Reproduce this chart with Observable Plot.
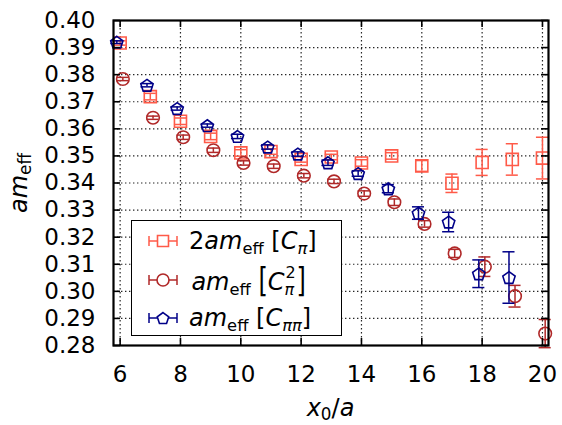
<!DOCTYPE html>
<html>
<head>
<meta charset="utf-8">
<script src="https://cdn.jsdelivr.net/npm/d3@7"></script>
<script src="https://cdn.jsdelivr.net/npm/@observablehq/plot@0.6"></script>
<style>
  body { margin: 0; background: #fff; }
  #wrap { position: relative; width: 562px; height: 425px; font-family: "DejaVu Sans", sans-serif; color: #000; overflow: hidden; }
  #wrap svg { display: block; }
  .lab { position: absolute; font-size: 24px; white-space: nowrap; line-height: 1; }
  .lab sub { font-size: 0.7em; vertical-align: -0.25em; font-style: normal; line-height: 0; }
  #legend { position: absolute; left: 131px; top: 220px; width: 209px; height: 114px; border: 1.5px solid #000; background: #fff; }
  .row { position: absolute; left: 0; height: 36px; display: flex; align-items: center; }
  .row svg { margin-left: 15px; margin-right: 10px; }
  .row .txt { font-size: 24px; white-space: nowrap; line-height: 1; }
  .txt sub { font-size: 0.68em; vertical-align: -0.32em; line-height: 0; }
  .ss { display: inline-block; position: relative; width: 12px; height: 24px; vertical-align: baseline; }
  .ss .up { position: absolute; left: 1px; top: -1px; font-size: 16px; line-height: 16px; font-style: normal; }
  .ss .dn { position: absolute; left: 0px; top: 16px; font-size: 16px; line-height: 16px; font-style: italic; }
  .bigb { display: inline-block; transform: scaleY(1.4); transform-origin: 50% 60%; }
</style>
</head>
<body>
<div id="wrap"></div>
<script>
// ---- data ----
const xBase = [6, 7, 8, 9, 10, 11, 12, 13, 14, 15, 16, 17, 18, 19, 20];
const sqVal = [0.3917, 0.3719, 0.3628, 0.3572, 0.3511, 0.3516, 0.3487, 0.3496, 0.3474, 0.3500, 0.3463, 0.3399, 0.3476, 0.3487, 0.3492];
const sqErr = [0.0008, 0.0012, 0.0012, 0.0012, 0.0012, 0.0010, 0.0010, 0.0010, 0.0012, 0.0012, 0.0020, 0.0034, 0.0048, 0.0058, 0.0077];
const ciVal = [0.3784, 0.3641, 0.3569, 0.3521, 0.3474, 0.3462, 0.3427, 0.3406, 0.3361, 0.3329, 0.3249, 0.3140, 0.3091, 0.2982, 0.2844];
const ciErr = [0.0006, 0.0006, 0.0008, 0.0008, 0.0008, 0.0008, 0.0008, 0.0008, 0.0010, 0.0012, 0.0012, 0.0015, 0.0036, 0.0040, 0.0052];
const peX   = [6, 7, 8, 9, 10, 11, 12, 13, 14, 15, 16, 17, 18, 19];
const peVal = [0.3920, 0.3761, 0.3675, 0.3612, 0.3572, 0.3533, 0.3507, 0.3475, 0.3435, 0.3379, 0.3289, 0.3256, 0.3065, 0.3051];
const peErr = [0.0005, 0.0006, 0.0006, 0.0006, 0.0008, 0.0008, 0.0008, 0.0010, 0.0010, 0.0015, 0.0023, 0.0036, 0.0051, 0.0095];
const xTicks = [6, 8, 10, 12, 14, 16, 18, 20];
const yTicks = [0.28, 0.29, 0.30, 0.31, 0.32, 0.33, 0.34, 0.35, 0.36, 0.37, 0.38, 0.39, 0.40];
const seriesShift = { sq: 0, ci: 0.09, pe: -0.11 };
const colors = { sq: "#ff5a48", ci: "#b02828", pe: "#000088" };

// ---- geometry ----
const W = 562, H = 425;
const mL = 113, mR = 14, mT = 20, mB = 80;
const innerW = W - mL - mR, innerH = H - mT - mB;

const pentagon = {
  draw(ctx, size) {
    const r = Math.sqrt(size / Math.PI) * 1.08;
    for (let i = 0; i < 5; i++) {
      const a = -Math.PI / 2 + i * 2 * Math.PI / 5;
      const px = r * Math.cos(a), py = r * Math.sin(a) + r * 0.1;
      if (i === 0) ctx.moveTo(px, py); else ctx.lineTo(px, py);
    }
    ctx.closePath();
  }
};

function rows(key, xs, vals, errs) {
  return xs.map((x, i) => ({ key, x: x + seriesShift[key], y: vals[i], lo: vals[i] - errs[i], hi: vals[i] + errs[i] }));
}
const sqData = rows("sq", xBase, sqVal, sqErr);
const ciData = rows("ci", xBase, ciVal, ciErr);
const peData = rows("pe", peX, peVal, peErr);

const capHalf = 0.2;
function errMarks(data, color) {
  return [
    Plot.ruleX(data, { x: "x", y1: "lo", y2: "hi", stroke: color, strokeWidth: 1.5 }),
    Plot.ruleY(data, { y: "lo", x1: d => d.x - capHalf, x2: d => d.x + capHalf, stroke: color, strokeWidth: 1.5 }),
    Plot.ruleY(data, { y: "hi", x1: d => d.x - capHalf, x2: d => d.x + capHalf, stroke: color, strokeWidth: 1.5 })
  ];
}

const chart = Plot.plot({
  width: W, height: H,
  marginLeft: mL, marginRight: mR, marginTop: mT, marginBottom: mB,
  style: { fontFamily: "DejaVu Sans, sans-serif", fontSize: "23px", color: "#000", background: "#fff", overflow: "visible" },
  x: { domain: [5.78, 20.2], label: null },
  y: { domain: [0.28, 0.40], label: null },
  marks: [
    Plot.gridX(xTicks, { stroke: "#000", strokeOpacity: 0.85, strokeDasharray: "1.4,2.6", strokeWidth: 1.2 }),
    Plot.gridY(yTicks, { stroke: "#000", strokeOpacity: 0.85, strokeDasharray: "1.4,2.6", strokeWidth: 1.2 }),
    ...errMarks(sqData, colors.sq),
    Plot.dot(sqData, { x: "x", y: "y", symbol: "square", r: 6.8, stroke: colors.sq, fill: "none", strokeWidth: 1.6 }),
    ...errMarks(ciData, colors.ci),
    Plot.dot(ciData, { x: "x", y: "y", symbol: "circle", r: 6.3, stroke: colors.ci, fill: "none", strokeWidth: 1.6 }),
    ...errMarks(peData, colors.pe),
    Plot.dot(peData, { x: "x", y: "y", symbol: pentagon, r: 6.0, stroke: colors.pe, fill: "none", strokeWidth: 1.6 }),
    // inward ticks on all four sides
    Plot.tickX(xTicks, { x: d => d, insetTop: innerH - 7, stroke: "#000", strokeWidth: 1.6 }),
    Plot.tickX(xTicks, { x: d => d, insetBottom: innerH - 7, stroke: "#000", strokeWidth: 1.6 }),
    Plot.tickY(yTicks, { y: d => d, insetRight: innerW - 7, stroke: "#000", strokeWidth: 1.6 }),
    Plot.tickY(yTicks, { y: d => d, insetLeft: innerW - 7, stroke: "#000", strokeWidth: 1.6 }),
    Plot.frame({ stroke: "#000", strokeWidth: 2.2 }),
    Plot.axisX(xTicks, { tickSize: 0, tickPadding: 20, label: null, fontSize: 23 }),
    Plot.axisY(yTicks, { tickSize: 0, tickPadding: 18, label: null, fontSize: 23, tickFormat: d => d.toFixed(2) })
  ]
});

const wrap = document.getElementById("wrap");
wrap.appendChild(chart);

// axis labels
const xl = document.createElement("div");
xl.className = "lab";
xl.innerHTML = '<i>x</i><sub>0</sub>/<i>a</i>';
xl.style.left = (mL + innerW / 2) + "px";
xl.style.top = "396px";
xl.style.transform = "translateX(-50%)";
wrap.appendChild(xl);

const yl = document.createElement("div");
yl.className = "lab";
yl.innerHTML = '<i>am</i><sub>eff</sub>';
yl.style.left = "19px";
yl.style.top = (mT + innerH / 2) + "px";
yl.style.transform = "translate(-50%,-50%) rotate(-90deg)";
wrap.appendChild(yl);

// legend
const legendItems = [
  { key: "sq", symbol: d3.symbolSquare, size: 6.2, html: '2<i>am</i><sub>eff</sub> [<i>C</i><sub><i>π</i></sub>]' },
  { key: "ci", symbol: d3.symbolCircle, size: 6.0, html: '&#8202;<i>am</i><sub>eff</sub> <span class="bigb">[</span><i>C</i><span class="ss"><span class="up">2</span><span class="dn">π</span></span><span class="bigb">]</span>' },
  { key: "pe", symbol: pentagon, size: 5.6, html: '<i>am</i><sub>eff</sub> [<i>C</i><sub><i>ππ</i></sub>]' }
];
const legend = document.createElement("div");
legend.id = "legend";
const rowTops = [2, 41, 79];
legendItems.forEach((it, i) => {
  const row = document.createElement("div");
  row.className = "row";
  row.style.top = rowTops[i] + "px";
  const svg = d3.create("svg").attr("width", 32).attr("height", 20);
  const c = colors[it.key];
  const g = svg.append("g").attr("transform", "translate(16,10)");
  g.append("line").attr("x1", -14).attr("x2", 14).attr("stroke", c).attr("stroke-width", 1.5);
  g.append("line").attr("x1", -14).attr("x2", -14).attr("y1", -5).attr("y2", 5).attr("stroke", c).attr("stroke-width", 1.5);
  g.append("line").attr("x1", 14).attr("x2", 14).attr("y1", -5).attr("y2", 5).attr("stroke", c).attr("stroke-width", 1.5);
  g.append("path").attr("d", d3.symbol(it.symbol, Math.PI * it.size * it.size)()).attr("fill", "#fff").attr("stroke", c).attr("stroke-width", 1.6);
  row.appendChild(svg.node());
  const t = document.createElement("span");
  t.className = "txt";
  t.innerHTML = it.html;
  row.appendChild(t);
  legend.appendChild(row);
});
wrap.appendChild(legend);
</script>
</body>
</html>
